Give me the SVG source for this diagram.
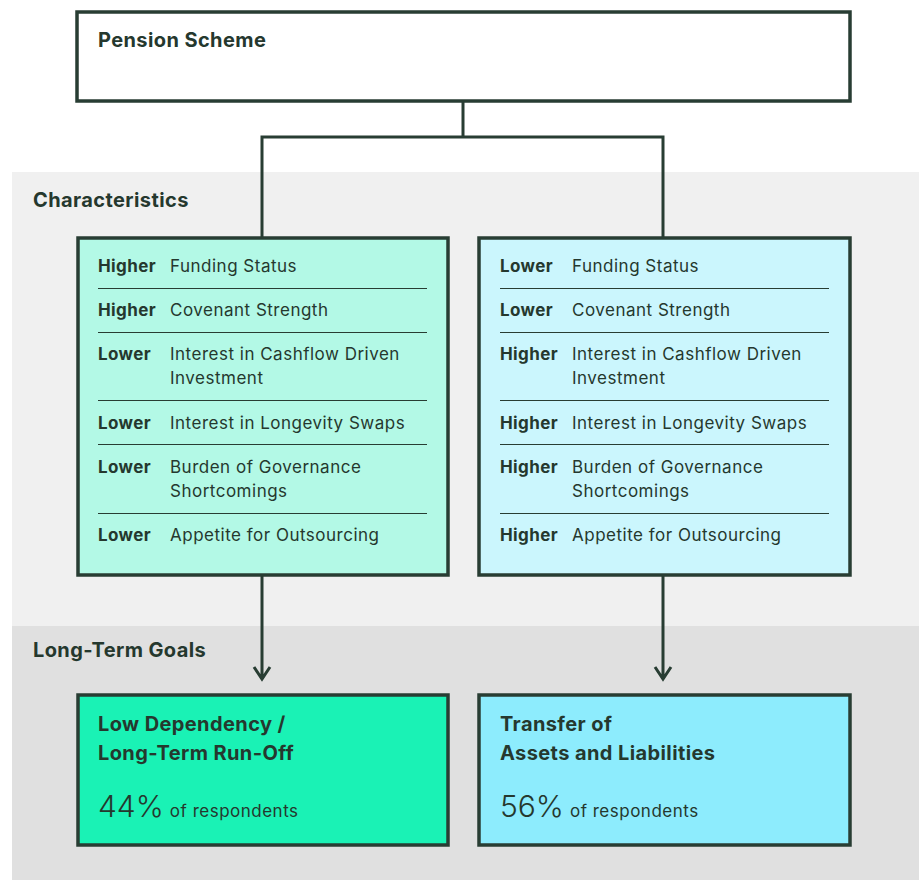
<svg xmlns="http://www.w3.org/2000/svg" width="919" height="880" viewBox="0 0 919 880">
<style>
.box{stroke:#283d33;stroke-width:3.5}
.t{font-family:Inter,"Liberation Sans",sans-serif;fill:#25382e}
.h{font-size:20px;font-weight:700;letter-spacing:0.4px}
.b{font-size:17px;font-weight:700;letter-spacing:0.4px}
.r{font-size:17px;font-weight:400;letter-spacing:0.5px}
.big{font-size:30px;font-weight:300}
.sep{stroke:#283d33;stroke-width:1}
.con{fill:none;stroke:#283d33;stroke-width:3}
</style>
<rect x="0" y="0" width="919" height="880" fill="#ffffff"/>
<rect x="12" y="172" width="907" height="454" fill="#f0f0f0"/>
<rect x="12" y="626" width="907" height="254" fill="#e0e0e0"/>
<text class="t h" x="33" y="207">Characteristics</text>
<text class="t h" x="33" y="657">Long-Term Goals</text>

<g id="connectors">
<path class="con" d="M463 101V137M262 238V137H663V238"/>
<path class="con" d="M262 575V679M254 667L262 679L270 667"/>
<path class="con" d="M663 575V679M655 667L663 679L671 667"/>
</g>

<g id="pension-scheme">
<rect class="box" x="77" y="12" width="773" height="89" fill="#ffffff"/>
<text class="t h" x="98" y="47">Pension Scheme</text>
</g>

<g id="char-left">
<rect class="box" x="78" y="238" width="370" height="337" fill="#b3f9e6"/>
<g class="sep"><line x1="98" y1="288.5" x2="427" y2="288.5"/><line x1="98" y1="332.5" x2="427" y2="332.5"/><line x1="98" y1="400.5" x2="427" y2="400.5"/><line x1="98" y1="444.5" x2="427" y2="444.5"/><line x1="98" y1="513.5" x2="427" y2="513.5"/></g>
<text class="t b" x="98" y="272">Higher</text><text class="t r" x="170" y="272">Funding Status</text>
<text class="t b" x="98" y="316">Higher</text><text class="t r" x="170" y="316">Covenant Strength</text>
<text class="t b" x="98" y="360">Lower</text><text class="t r" x="170" y="360">Interest in Cashflow Driven</text><text class="t r" x="170" y="384">Investment</text>
<text class="t b" x="98" y="429">Lower</text><text class="t r" x="170" y="429">Interest in Longevity Swaps</text>
<text class="t b" x="98" y="473">Lower</text><text class="t r" x="170" y="473">Burden of Governance</text><text class="t r" x="170" y="497">Shortcomings</text>
<text class="t b" x="98" y="541">Lower</text><text class="t r" x="170" y="541">Appetite for Outsourcing</text>
</g>

<g id="char-right">
<rect class="box" x="479" y="238" width="371" height="337" fill="#cbf6fd"/>
<g class="sep"><line x1="500" y1="288.5" x2="829" y2="288.5"/><line x1="500" y1="332.5" x2="829" y2="332.5"/><line x1="500" y1="400.5" x2="829" y2="400.5"/><line x1="500" y1="444.5" x2="829" y2="444.5"/><line x1="500" y1="513.5" x2="829" y2="513.5"/></g>
<text class="t b" x="500" y="272">Lower</text><text class="t r" x="572" y="272">Funding Status</text>
<text class="t b" x="500" y="316">Lower</text><text class="t r" x="572" y="316">Covenant Strength</text>
<text class="t b" x="500" y="360">Higher</text><text class="t r" x="572" y="360">Interest in Cashflow Driven</text><text class="t r" x="572" y="384">Investment</text>
<text class="t b" x="500" y="429">Higher</text><text class="t r" x="572" y="429">Interest in Longevity Swaps</text>
<text class="t b" x="500" y="473">Higher</text><text class="t r" x="572" y="473">Burden of Governance</text><text class="t r" x="572" y="497">Shortcomings</text>
<text class="t b" x="500" y="541">Higher</text><text class="t r" x="572" y="541">Appetite for Outsourcing</text>
</g>

<g id="goal-left">
<rect class="box" x="78" y="695" width="370" height="150" fill="#1af2b5"/>
<text class="t h" x="98" y="731">Low Dependency /</text>
<text class="t h" x="98" y="760">Long-Term Run-Off</text>
<text class="t" x="98" y="817"><tspan class="big">44%</tspan><tspan class="r" dx="6">of respondents</tspan></text>
</g>

<g id="goal-right">
<rect class="box" x="479" y="695" width="371" height="150" fill="#8decfd"/>
<text class="t h" x="500" y="731">Transfer of</text>
<text class="t h" x="500" y="760">Assets and Liabilities</text>
<text class="t" x="500" y="817"><tspan class="big">56%</tspan><tspan class="r" dx="6">of respondents</tspan></text>
</g>
</svg>
